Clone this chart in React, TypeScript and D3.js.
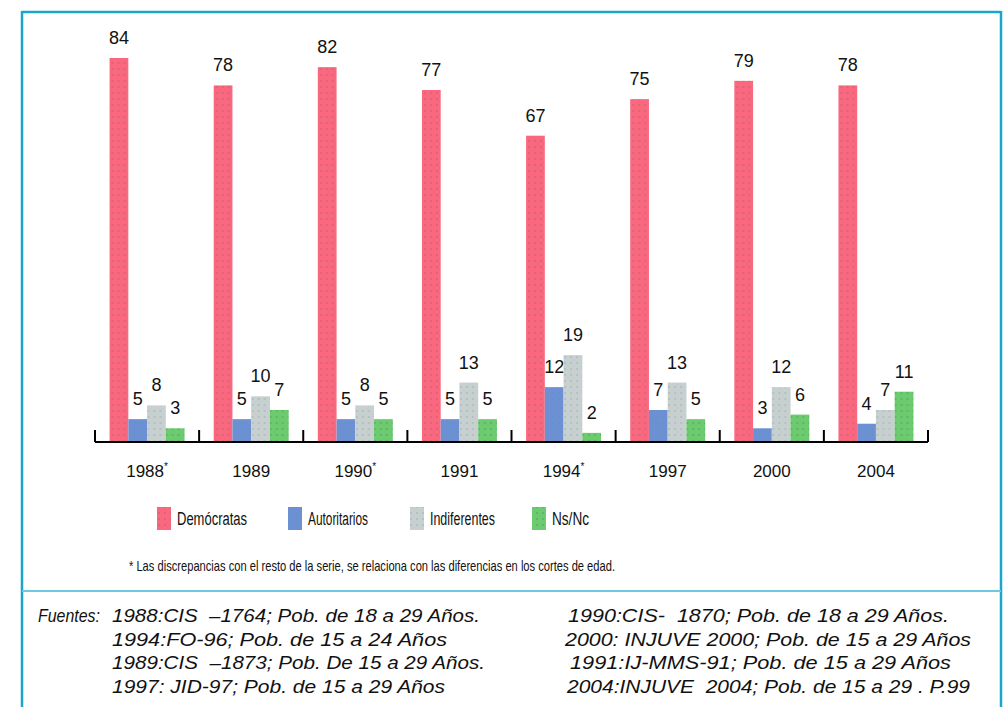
import React from "react";
import * as d3 from "d3";

const years = ["1988", "1989", "1990", "1991", "1994", "1997", "2000", "2004"];
const yearMarked = [true, false, true, false, true, false, false, false];
const seriesNames = ["Demócratas", "Autoritarios", "Indiferentes", "Ns/Nc"];
const democratas = [84, 78, 82, 77, 67, 75, 79, 78];
const autoritarios = [5, 5, 5, 5, 12, 7, 3, 4];
const indiferentes = [8, 10, 8, 13, 19, 13, 12, 7];
const nsnc = [3, 7, 5, 5, 2, 5, 6, 11];
const footnote =
  "* Las discrepancias con el resto de la serie, se relaciona con las diferencias en los cortes de edad.";
const fuentesLeft = [
  "1988:CIS  \u20131764; Pob. de 18 a 29 Años.",
  "1994:FO-96; Pob. de 15 a 24 Años",
  "1989:CIS  \u20131873; Pob. De 15 a 29 Años.",
  "1997: JID-97; Pob. de 15 a 29 Años",
];
const fuentesRight = [
  "1990:CIS-  1870; Pob. de 18 a 29 Años.",
  "2000: INJUVE 2000; Pob. de 15 a 29 Años",
  "1991:IJ-MMS-91; Pob. de 15 a 29 Años",
  "2004:INJUVE  2004; Pob. de 15 a 29 . P.99",
];

const colors = ["#f9687f", "#6d8fd4", "#c8cfcf", "#6ccb6f"];
const dotColors = ["#b8606c", "#4f9fb0", "#8fb5b8", "#4f9a60"];

const seriesValues = [democratas, autoritarios, indiferentes, nsnc];

export default function App() {
  const W = 1005;
  const H = 707;
  const x0 = d3
    .scaleBand<string>()
    .domain(years)
    .range([95, 928])
    .paddingInner(0.28)
    .paddingOuter(0.14);
  const x1 = d3
    .scaleBand<number>()
    .domain(d3.range(seriesNames.length))
    .range([0, x0.bandwidth()])
    .padding(0);
  const y = d3.scaleLinear().domain([0, 84]).range([442, 58]);
  const step = x0.step();
  const tickXs = d3.range(years.length + 1).map((i) => 95 + i * step);

  const font = "'Liberation Sans', Arial, sans-serif";

  const legendX = [157, 288, 410, 532];
  const legendTextLen = [70, 60, 65, 37];

  return (
    <div style={{ position: "absolute", left: 0, top: 0 }}>
      <svg width={W} height={H} style={{ display: "block", background: "#fff" }}>
        <defs>
          {colors.map((c, i) => (
            <pattern key={i} id={`pat${i}`} width={6} height={6} patternUnits="userSpaceOnUse">
              <rect width={6} height={6} fill={c} />
              <circle cx={3} cy={3} r={0.8} fill={dotColors[i]} />
            </pattern>
          ))}
        </defs>

        {/* frame */}
        <line x1={22} y1={12} x2={1001} y2={12} stroke="#18a6c9" strokeWidth={2.5} />
        <line x1={22} y1={11} x2={22} y2={H} stroke="#18a6c9" strokeWidth={2.5} />
        <line x1={1001} y1={11} x2={1001} y2={H} stroke="#18a6c9" strokeWidth={2.5} />
        <line x1={22} y1={591} x2={1001} y2={591} stroke="#6fc7e0" strokeWidth={2} />

        {/* bars */}
        {years.map((yr, gi) => (
          <g key={yr} transform={`translate(${x0(yr)},0)`}>
            {seriesValues.map((vals, si) => {
              const v = vals[gi];
              const bx = x1(si) as number;
              return (
                <g key={si}>
                  <rect
                    x={bx}
                    y={y(v)}
                    width={x1.bandwidth()}
                    height={y(0) - y(v)}
                    fill={`url(#pat${si})`}
                  />
                  <text
                    x={bx + x1.bandwidth() / 2}
                    y={y(v) - 14}
                    textAnchor="middle"
                    fontFamily={font}
                    fontSize={18}
                    fill="#111"
                  >
                    {v}
                  </text>
                </g>
              );
            })}
          </g>
        ))}

        {/* axis */}
        <line x1={95} y1={442} x2={928} y2={442} stroke="#000" strokeWidth={2.2} />
        {tickXs.map((tx, i) => (
          <line key={i} x1={tx} y1={430} x2={tx} y2={442} stroke="#000" strokeWidth={2} />
        ))}
        {years.map((yr, i) => (
          <text
            key={yr}
            x={(x0(yr) as number) - step * 0.14 + step / 2}
            y={477}
            textAnchor="middle"
            fontFamily={font}
            fontSize={17}
            fill="#111"
          >
            {yr}
            {yearMarked[i] ? (
              <tspan fontSize={10} dy={-7}>
                *
              </tspan>
            ) : null}
          </text>
        ))}

        {/* legend */}
        {seriesNames.map((n, i) => (
          <g key={n}>
            <rect x={legendX[i]} y={507} width={14} height={23} fill={`url(#pat${i})`} />
            <text
              x={legendX[i] + 20}
              y={525}
              fontFamily={font}
              fontSize={18}
              textLength={legendTextLen[i]}
              lengthAdjust="spacingAndGlyphs"
              fill="#111"
            >
              {n}
            </text>
          </g>
        ))}

        {/* footnote */}
        <text
          x={129}
          y={571}
          fontFamily={font}
          fontSize={15}
          textLength={486}
          lengthAdjust="spacingAndGlyphs"
          fill="#111"
        >
          {footnote}
        </text>

        {/* sources */}
        <text x={38} y={622} fontFamily={font} fontSize={19} fontStyle="italic" fill="#111" textLength={62} lengthAdjust="spacingAndGlyphs">
          Fuentes:
        </text>
        {fuentesLeft.map((t, i) => (
          <text
            key={"l" + i}
            x={112}
            y={622 + i * 23.7}
            fontFamily={font}
            fontSize={19}
            fontStyle="italic"
            fill="#111"
            style={{ whiteSpace: "pre" }}
            textLength={[368, 335, 373, 333][i]}
            lengthAdjust="spacingAndGlyphs"
          >
            {t}
          </text>
        ))}
        {fuentesRight.map((t, i) => (
          <text
            key={"r" + i}
            x={[568, 565, 570, 567][i]}
            y={622 + i * 23.7}
            fontFamily={font}
            fontSize={19}
            fontStyle="italic"
            fill="#111"
            style={{ whiteSpace: "pre" }}
            textLength={[381, 406, 381, 403][i]}
            lengthAdjust="spacingAndGlyphs"
          >
            {t}
          </text>
        ))}
      </svg>
    </div>
  );
}
